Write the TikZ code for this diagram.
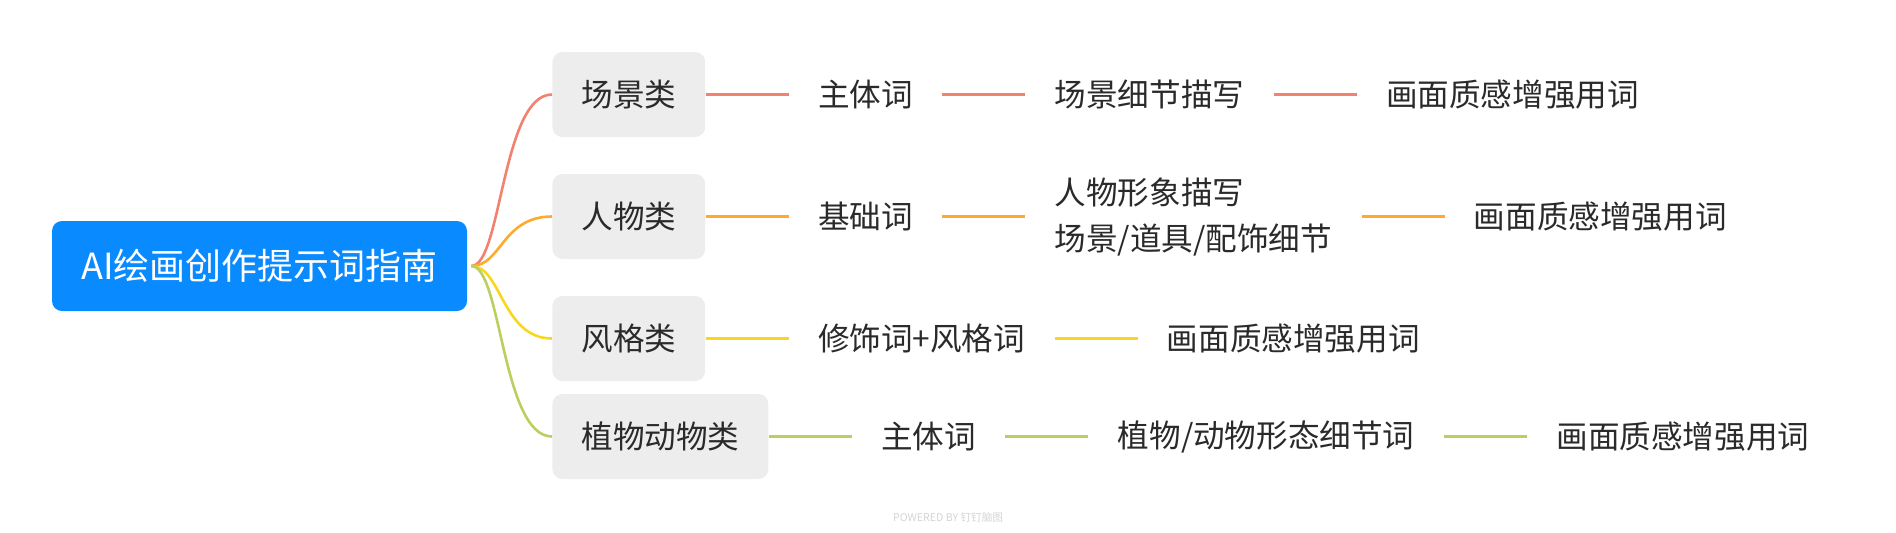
\documentclass[tikz,border=0pt]{standalone}
\usepackage{fontspec}
\setmainfont{Noto Sans CJK SC}
\usetikzlibrary{positioning}
\definecolor{rootblue}{HTML}{0A8AFF}
\definecolor{catgray}{HTML}{EDEDED}
\definecolor{ink}{HTML}{2A2A2A}
\definecolor{bred}{HTML}{F2826F}
\definecolor{borange}{HTML}{FFAA2C}
\definecolor{byellow}{HTML}{F8D81E}
\definecolor{bgreen}{HTML}{BACF5E}
\definecolor{wmgray}{HTML}{D4D4D4}
\tikzset{
  rootbox/.style={fill=rootblue,text=white,rounded corners=5pt,font=\fontsize{18}{22}\selectfont,
    inner xsep=8pt,minimum width=207.5pt,minimum height=45pt},
  catbox/.style={fill=catgray,text=ink,rounded corners=5pt,font=\fontsize{15.8}{23}\selectfont,
    inner xsep=14.5pt,minimum height=42.5pt},
  leaf/.style={text=ink,font=\fontsize{15.8}{23}\selectfont,inner xsep=14.5pt,align=left},
  lk/.style={line width=1.3pt},
}
\begin{document}
\begin{tikzpicture}[x=0.5pt,y=-0.5pt,node distance=41.5pt]
\useasboundingbox (0,0) rectangle (1896,532);
\node[rootbox] (root) at (259.5,266) {AI绘画创作提示词指南};
\coordinate (hub) at ([xshift=2pt]root.east);
% categories
\node[catbox,anchor=west] (c1) at (552,94.5) {场景类};
\node[catbox,anchor=west] (c2) at (552,216.5) {人物类};
\node[catbox,anchor=west] (c3) at (552,338.5) {风格类};
\node[catbox,anchor=west] (c4) at (552,436.5) {植物动物类};
% branches from the root
\draw[lk,bred] (hub) .. controls +(30,0) and +(-50,0) .. (c1.west);
\draw[lk,borange] (hub) .. controls +(30,0) and +(-50,0) .. (c2.west);
\draw[lk,byellow] (hub) .. controls +(30,0) and +(-50,0) .. (c3.west);
\draw[lk,bgreen] (hub) .. controls +(30,0) and +(-50,0) .. (c4.west);
% row 1
\node[leaf,right=of c1] (p1a) {主体词};
\node[leaf,right=of p1a] (p1b) {场景细节描写};
\node[leaf,right=of p1b] (p1c) {画面质感增强用词};
\draw[lk,bred] (c1) -- (p1a);
\draw[lk,bred] (p1a) -- (p1b);
\draw[lk,bred] (p1b) -- (p1c);
% row 2
\node[leaf,right=of c2] (p2a) {基础词};
\node[leaf,right=of p2a] (p2b) {人物形象描写\\场景/道具/配饰细节};
\node[leaf,right=of p2b] (p2c) {画面质感增强用词};
\draw[lk,borange] (c2) -- (p2a);
\draw[lk,borange] (p2a) -- (p2b);
\draw[lk,borange] (p2b) -- (p2c);
% row 3
\node[leaf,right=of c3] (p3a) {修饰词+风格词};
\node[leaf,right=of p3a] (p3b) {画面质感增强用词};
\draw[lk,byellow] (c3) -- (p3a);
\draw[lk,byellow] (p3a) -- (p3b);
% row 4
\node[leaf,right=of c4] (p4a) {主体词};
\node[leaf,right=of p4a] (p4b) {植物/动物形态细节词};
\node[leaf,right=of p4b] (p4c) {画面质感增强用词};
\draw[lk,bgreen] (c4) -- (p4a);
\draw[lk,bgreen] (p4a) -- (p4b);
\draw[lk,bgreen] (p4b) -- (p4c);
\node[font=\fontsize{5.3}{6}\selectfont,text=wmgray] (wm) at (948,517) {POWERED BY 钉钉脑图};
\end{tikzpicture}
\end{document}
